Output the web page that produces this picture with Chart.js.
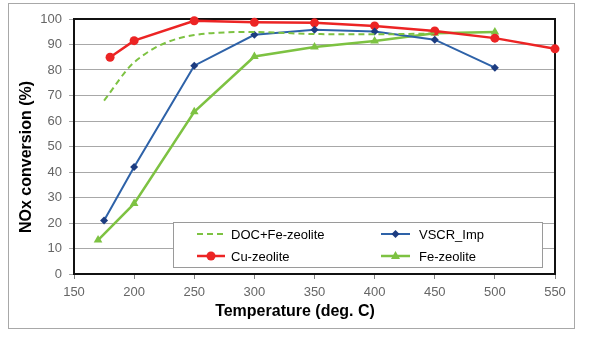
<!DOCTYPE html>
<html>
<head>
<meta charset="utf-8">
<script src="https://cdn.jsdelivr.net/npm/chart.js@4.4.1/dist/chart.umd.min.js"></script>
<style>
  html, body { margin: 0; padding: 0; background: #ffffff; }
  #wrap { width: 602px; height: 337px; }
</style>
</head>
<body>
<div id="wrap"><canvas id="c" width="602" height="337"></canvas></div>
<script>
// NOx conversion vs. temperature for four SCR catalyst systems
const docTemps = [175, 200, 250, 300, 350, 400, 450];
const docNox   = [68, 83, 93.7, 94.9, 94.1, 94, 94.3];

const vscrTemps = [175, 200, 250, 300, 350, 400, 450, 500];
const vscrNox   = [21, 42, 81.7, 93.8, 95.8, 95.1, 91.9, 80.9];

const cuTemps = [180, 200, 250, 300, 350, 400, 450, 500, 550];
const cuNox   = [85, 91.5, 99.3, 98.7, 98.5, 97.3, 95.3, 92.5, 88.3];

const feTemps = [170, 200, 250, 300, 350, 400, 450, 500];
const feNox   = [13.3, 27.6, 63.6, 85.3, 89, 91.4, 94.4, 94.9];

const seriesNames = ['DOC+Fe-zeolite', 'VSCR_Imp', 'Cu-zeolite', 'Fe-zeolite'];
const xTitle = 'Temperature (deg. C)';
const yTitle = 'NOx conversion (%)';

const toPoints = (xs, ys) => xs.map((x, i) => ({ x: x, y: ys[i] }));

const GREEN = '#7dc242';
const RED = '#ec2424';
const BLUE = '#2e62a8';
const NAVY = '#1c3c80';
const FONT = '"Liberation Sans", Arial, sans-serif';

function drawMarker(ctx, style, x, y, r, fill) {
  ctx.save();
  ctx.fillStyle = fill;
  ctx.beginPath();
  if (style === 'circle') {
    ctx.arc(x, y, r, 0, Math.PI * 2);
  } else if (style === 'rectRot') {
    ctx.moveTo(x, y - r); ctx.lineTo(x + r, y); ctx.lineTo(x, y + r); ctx.lineTo(x - r, y);
    ctx.closePath();
  } else if (style === 'triangle') {
    ctx.moveTo(x, y - r); ctx.lineTo(x + r * 0.9, y + r * 0.6); ctx.lineTo(x - r * 0.9, y + r * 0.6);
    ctx.closePath();
  }
  ctx.fill();
  ctx.restore();
}

const framePlugin = {
  id: 'frame',
  beforeDraw(chart) {
    const ctx = chart.ctx;
    ctx.save();
    ctx.fillStyle = '#ffffff';
    ctx.fillRect(0, 0, chart.width, chart.height);
    ctx.strokeStyle = '#a8a8a8';
    ctx.lineWidth = 1;
    ctx.strokeRect(8.5, 3.5, 566, 325);
    ctx.restore();
  },
  beforeDatasetsDraw(chart) {
    const a = chart.chartArea, ctx = chart.ctx;
    ctx.save();
    ctx.strokeStyle = '#111111';
    ctx.lineWidth = 2;
    ctx.strokeRect(a.left, a.top, a.right - a.left, a.bottom - a.top);
    ctx.restore();
  },
  afterDraw(chart) {
    const ctx = chart.ctx;
    // axis titles
    ctx.save();
    ctx.fillStyle = '#000';
    ctx.font = 'bold 16px ' + FONT;
    ctx.textAlign = 'center';
    ctx.textBaseline = 'middle';
    ctx.fillText(xTitle, 295, 312);
    ctx.translate(27, 157);
    ctx.rotate(-Math.PI / 2);
    ctx.fillText(yTitle, 0, 0);
    ctx.restore();

    // legend box
    ctx.save();
    ctx.fillStyle = '#ffffff';
    ctx.strokeStyle = '#9a9a9a';
    ctx.lineWidth = 1;
    ctx.fillRect(173.5, 222.5, 369, 45);
    ctx.strokeRect(173.5, 222.5, 369, 45);
    const cols = [{ x0: 197, x1: 225, tx: 231 }, { x0: 381, x1: 410, tx: 419 }];
    const rows = [234, 256];
    chart.data.datasets.forEach((ds, i) => {
      const c = cols[i % 2], y = rows[Math.floor(i / 2)];
      ctx.save();
      ctx.strokeStyle = ds.borderColor;
      ctx.lineWidth = ds.borderWidth;
      ctx.setLineDash(ds.borderDash || []);
      ctx.beginPath();
      ctx.moveTo(c.x0, y); ctx.lineTo(c.x1, y);
      ctx.stroke();
      ctx.restore();
      if (ds.pointRadius > 0) {
        drawMarker(ctx, ds.pointStyle, (c.x0 + c.x1) / 2, y, ds.pointRadius, ds.pointBackgroundColor);
      }
      ctx.fillStyle = '#000';
      ctx.font = '13px ' + FONT;
      ctx.textAlign = 'left';
      ctx.textBaseline = 'middle';
      ctx.fillText(ds.label, c.tx, y + 1);
    });
    ctx.restore();
  }
};

new Chart(document.getElementById('c'), {
  type: 'line',
  data: {
    datasets: [
      {
        label: seriesNames[0],
        data: toPoints(docTemps, docNox),
        borderColor: GREEN, borderWidth: 2, borderDash: [6, 4],
        pointRadius: 0, pointStyle: 'circle', pointBackgroundColor: GREEN,
        cubicInterpolationMode: 'monotone', fill: false, clip: false
      },
      {
        label: seriesNames[1],
        data: toPoints(vscrTemps, vscrNox),
        borderColor: BLUE, borderWidth: 2,
        pointStyle: 'rectRot', pointRadius: 4, pointBackgroundColor: NAVY, pointBorderColor: NAVY, pointBorderWidth: 0,
        tension: 0, fill: false, clip: false
      },
      {
        label: seriesNames[2],
        data: toPoints(cuTemps, cuNox),
        borderColor: RED, borderWidth: 2.5,
        pointStyle: 'circle', pointRadius: 4.5, pointBackgroundColor: RED, pointBorderColor: RED, pointBorderWidth: 0,
        tension: 0, fill: false, clip: false
      },
      {
        label: seriesNames[3],
        data: toPoints(feTemps, feNox),
        borderColor: GREEN, borderWidth: 2.5,
        pointStyle: 'triangle', pointRadius: 5, pointBackgroundColor: GREEN, pointBorderColor: GREEN, pointBorderWidth: 0,
        tension: 0, fill: false, clip: false
      }
    ]
  },
  options: {
    responsive: false,
    devicePixelRatio: 1,
    animation: false,
    layout: { padding: { top: 19, right: 47, left: 0, bottom: 0 } },
    plugins: { legend: { display: false }, tooltip: { enabled: false } },
    scales: {
      x: {
        type: 'linear', min: 150, max: 550,
        afterFit: s => { s.height = 63; },
        ticks: {
          stepSize: 50, padding: 6, maxRotation: 0,
          color: '#666', font: { family: FONT, size: 13 }
        },
        grid: { drawOnChartArea: false, drawTicks: true, tickLength: 5, color: '#808080' },
        border: { display: false },
        title: { display: false, text: xTitle }
      },
      y: {
        type: 'linear', min: 0, max: 100,
        afterFit: s => { s.width = 74; },
        ticks: {
          stepSize: 10, padding: 7,
          color: '#666', font: { family: FONT, size: 13 }
        },
        grid: { color: '#a8a8a8', lineWidth: 1, drawTicks: true, tickLength: 5 },
        border: { display: false },
        title: { display: false, text: yTitle }
      }
    }
  },
  plugins: [framePlugin]
});
</script>
</body>
</html>
